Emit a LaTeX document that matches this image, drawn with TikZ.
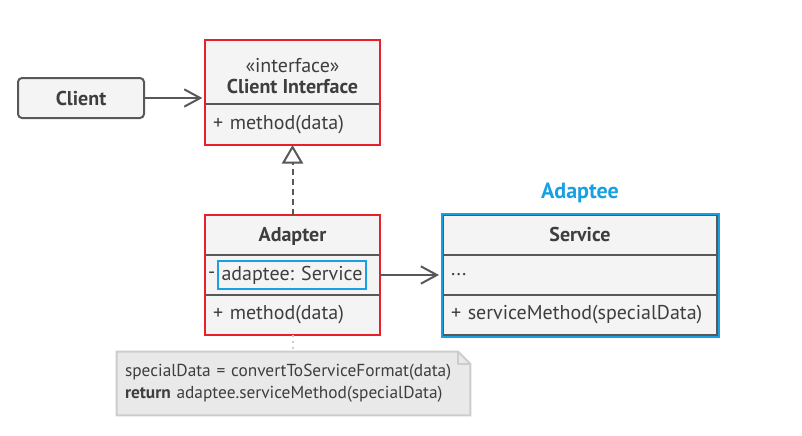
\documentclass[tikz,border=0pt]{standalone}
\usepackage{fontspec}
\setmainfont{PT Sans}
\usetikzlibrary{arrows.meta}
\usetikzlibrary{calc}
\usetikzlibrary{backgrounds}

\definecolor{umlred}{RGB}{232,32,42}
\definecolor{umlblue}{RGB}{24,160,224}
\definecolor{umlgray}{RGB}{88,88,88}
\definecolor{umlfill}{RGB}{244,244,244}
\definecolor{umltext}{RGB}{62,62,62}
\definecolor{notefill}{RGB}{233,233,233}
\definecolor{noteline}{RGB}{204,204,204}

\begin{document}
\begin{tikzpicture}[x=0.75pt,y=-0.75pt,
	>/.tip={Straight Barb[length=12pt,width=13pt]},
	every node/.style={text=umltext,font=\fontsize{15}{16}\selectfont},
	box/.style={draw=umlgray,line width=1.5pt,fill=umlfill,outer sep=0pt,inner sep=0pt},
	head/.style={box,minimum width=#1,minimum height=30pt,font=\fontsize{15}{16}\selectfont\bfseries},
	row/.style={box,text width=#1,inner xsep=6pt,minimum height=30pt,align=left},
	link/.style={draw=umlgray,line width=1.5pt}]
	\useasboundingbox (0,0) rectangle (802,435);

	\draw (81,98) node (client) [box,rounded corners=3pt,minimum width=94.5pt,minimum height=30pt,font=\fontsize{15}{16}\selectfont\bfseries] {Client};

	\draw (292.5,72) node (ifacehead) [head=131.25pt,minimum height=48pt,align=center] {{\mdseries\rule{0pt}{17pt}«interface»}\\Client Interface};
	\draw (ifacehead.south) node (ifacemeth) [row=119.25pt,anchor=north,minimum height=30.75pt] {+ method(data)};
	\draw[umlred,line width=1.5pt] (ifacehead.north west) rectangle (ifacemeth.south east);

	\draw (292.5,235) node (adapterhead) [head=131.25pt,text depth=1pt] {Adapter};
	\draw (adapterhead.south) node (adapterfields) [row=119.25pt,anchor=north] {};
	\draw (adapterfields.south) node (adaptermeth) [row=119.25pt,anchor=north] {+ method(data)};
	\draw[umlred,line width=1.5pt] (adapterhead.north west) rectangle (adaptermeth.south east);
	\draw (292,275) node (adapteefield) [draw=umlblue,line width=1.5pt,fill=umlfill,minimum width=111pt,minimum height=21pt,inner sep=1pt] {adaptee: Service};
	\node [left,inner xsep=1pt] at (adapteefield.west) {-};

	\draw (580,235) node (servicehead) [head=205.5pt,text depth=1pt] {Service};
	\draw (servicehead.south) node (servicefields) [row=193.5pt,anchor=north] {...};
	\draw (servicefields.south) node (servicemeth) [row=193.5pt,anchor=north] {+ serviceMethod(specialData)};
	\draw[umlblue,line width=1.5pt] ($(servicehead.north west)+(-1.5,-1.5)$) rectangle ($(servicemeth.south east)+(1.5,1.5)$);
	\node (adapteelabel) [text=umlblue,font=\fontsize{16.5}{20}\selectfont\bfseries] at (580,193) {Adaptee};

	\draw (293.5,383.5) node (note) [text width=252.75pt,inner xsep=6pt,minimum height=47.25pt,align=left,font=\fontsize{13}{16.5}\selectfont] {specialData = convertToServiceFormat(data)\\\textbf{return} adaptee.serviceMethod(specialData)};
	\begin{scope}[on background layer]
		\draw[noteline,fill=notefill,line width=1.5pt] (note.north west) -- ($(note.north east)+(-12,0)$) -- ($(note.north east)+(0,12)$) -- (note.south east) -- (note.south west) -- cycle;
		\draw[noteline,line width=1.5pt] ($(note.north east)+(-12,0)$) |- ($(note.north east)+(0,12)$);
	\end{scope}

	\draw[->,link,shorten >=2pt] (client.east) -- (client.east -| ifacehead.west);
	\draw[->,link,shorten >=3pt] (adapterfields.east) -- (servicefields.west);
	\draw[link,dash pattern=on 4.5pt off 3pt,-{Triangle[length=14pt,width=16pt,fill=white]}] (adapterhead.north) -- (ifacemeth.south);
	\draw[noteline,line width=1.5pt,dash pattern=on 1.5pt off 3pt] (adaptermeth.south) -- (adaptermeth.south |- note.north);
\end{tikzpicture}
\end{document}
